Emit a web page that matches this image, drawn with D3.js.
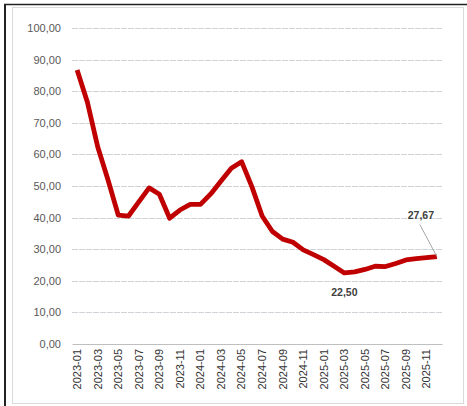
<!DOCTYPE html>
<html>
<head>
<meta charset="UTF-8">
<script src="https://cdnjs.cloudflare.com/ajax/libs/d3/7.8.5/d3.min.js"></script>
<style>
  body { margin: 0; background: #fff; }
  svg { display: block; font-family: "Liberation Sans", Arial, sans-serif; }
</style>
</head>
<body>
<svg id="chart" width="467" height="406"></svg>
<script>
// monthly series, 2023-01 .. 2025-12
const months = [];
for (let y = 2023; y <= 2025; y++) {
  for (let m = 1; m <= 12; m++) months.push(y + "-" + String(m).padStart(2, "0"));
}
const values = [
  86.7, 76.5, 62.4, 52.0, 40.8, 40.5, 45.0, 49.4, 47.4, 39.8, 42.4, 44.2,
  44.2, 47.5, 51.6, 55.6, 57.7, 49.8, 40.5, 35.6, 33.2, 32.2, 29.8, 28.3,
  26.7, 24.6, 22.5, 22.8, 23.6, 24.6, 24.5, 25.5, 26.6, 27.0, 27.3, 27.67
];
const yTicks = [0, 10, 20, 30, 40, 50, 60, 70, 80, 90, 100];
const xTickLabels = months.filter((d, i) => i % 2 === 0);
const fmt = v => v.toFixed(2).replace(".", ",");

const svg = d3.select("#chart");

// frame
svg.append("line").attr("x1", 4).attr("x2", 467).attr("y1", 4.5).attr("y2", 4.5)
  .attr("stroke", "#222").attr("stroke-width", 1.5);
svg.append("line").attr("x1", 5).attr("x2", 5).attr("y1", 4).attr("y2", 406)
  .attr("stroke", "#222").attr("stroke-width", 2);
svg.append("rect").attr("x", 12.5).attr("y", 7.5).attr("width", 451).attr("height", 396)
  .attr("fill", "none").attr("stroke", "#d9d9d9");

const x = d3.scaleBand().domain(months).range([72, 442]);
const y = d3.scaleLinear().domain([0, 100]).range([344, 28]);
const cx = d => x(d) + x.bandwidth() / 2;

// gridlines
svg.append("g").selectAll("line").data(yTicks.filter(d => d > 0)).join("line")
  .attr("x1", 72).attr("x2", 442)
  .attr("y1", d => Math.round(y(d)) + 0.5).attr("y2", d => Math.round(y(d)) + 0.5)
  .attr("stroke", "#d0d4d8").attr("stroke-dasharray", "6,1");

// y axis
const yAxis = svg.append("g").attr("transform", "translate(72,0)")
  .call(d3.axisLeft(y).tickValues(yTicks).tickFormat(fmt).tickSize(0).tickPadding(11));
yAxis.select(".domain").remove();
yAxis.selectAll("text").attr("font-size", 11).attr("fill", "#595959")
  .attr("font-family", "Liberation Sans, Arial, sans-serif");

// x axis
const xAxis = svg.append("g").attr("transform", "translate(0,344)")
  .call(d3.axisBottom(x).tickValues(xTickLabels).tickSize(0).tickPadding(6));
xAxis.select(".domain").attr("stroke", "#bfbfbf");
xAxis.selectAll("text")
  .attr("font-size", 11).attr("fill", "#333")
  .attr("font-family", "Liberation Sans, Arial, sans-serif")
  .attr("transform", "rotate(-90)")
  .attr("text-anchor", "end")
  .attr("dy", "0.35em")
  .attr("x", -5).attr("y", 0);

// line
svg.append("path")
  .datum(values)
  .attr("fill", "none")
  .attr("stroke", "#c00000")
  .attr("stroke-width", 4.8)
  .attr("stroke-linejoin", "round")
  .attr("d", d3.line().x((d, i) => cx(months[i])).y(d => y(d)));

// labels
const minI = values.indexOf(d3.min(values));
svg.append("text")
  .attr("x", cx(months[minI])).attr("y", y(values[minI]) + 23)
  .attr("text-anchor", "middle").attr("font-size", 10.5).attr("font-weight", "bold")
  .attr("fill", "#404040").text(fmt(values[minI]));

const lastI = values.length - 1;
svg.append("line")
  .attr("x1", cx(months[lastI]) - 17).attr("y1", y(values[lastI]) - 32)
  .attr("x2", cx(months[lastI])).attr("y2", y(values[lastI]))
  .attr("stroke", "#a6a6a6").attr("stroke-width", 1);
svg.append("text")
  .attr("x", cx(months[lastI]) - 16).attr("y", y(values[lastI]) - 38)
  .attr("text-anchor", "middle").attr("font-size", 10.5).attr("font-weight", "bold")
  .attr("fill", "#404040").text(fmt(values[lastI]));
</script>
</body>
</html>
